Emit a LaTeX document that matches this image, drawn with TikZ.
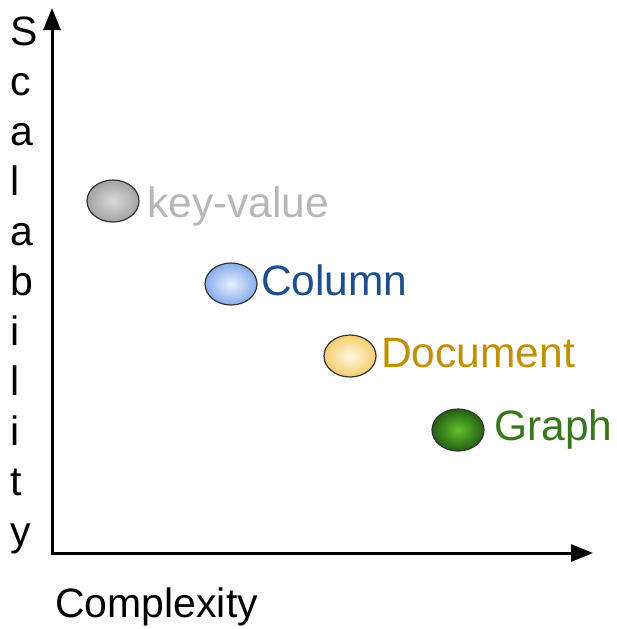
\documentclass[tikz,border=0pt]{standalone}
\usepackage{fontspec}
\setmainfont{Liberation Sans}
\usetikzlibrary{arrows.meta}
\usetikzlibrary{shapes.geometric}
\usetikzlibrary{positioning}

\definecolor{kvtext}{HTML}{B7B7B7}
\definecolor{coltext}{HTML}{1F4E8C}
\definecolor{doctext}{HTML}{BF9000}
\definecolor{graphtext}{HTML}{38761D}
\definecolor{kvin}{HTML}{DADADA}
\definecolor{kvout}{HTML}{A3A3A3}
\definecolor{colin}{HTML}{E8F0FF}
\definecolor{colout}{HTML}{86ACEA}
\definecolor{docin}{HTML}{FFF8E2}
\definecolor{docout}{HTML}{F4CD6C}
\definecolor{graphin}{HTML}{5EC230}
\definecolor{graphout}{HTML}{245E12}

\tikzset{
    blob/.style={ellipse, draw=black!80, line width=1.2pt, minimum width=52pt,
        minimum height=42pt, inner sep=0pt},
    lbl/.style={anchor=base west, inner sep=0pt, font=\fontsize{42.5}{50}\selectfont},
    axlbl/.style={anchor=base west, inner sep=0pt, font=\fontsize{41}{49}\selectfont},
    axis/.style={line width=3pt, {Triangle[length=22pt,width=17pt]}-{Triangle[length=22pt,width=17pt]}}
}

\begin{document}
\begin{tikzpicture}[x=1pt, y=-1pt]
    \useasboundingbox (0,0) rectangle (616,629);
    % axes
    \coordinate (o) at (52,553);
    \coordinate (ytip) at (52,8);
    \coordinate (xtip) at (593,553);
    \draw[axis] (ytip) -- (o) -- (xtip);
    \foreach \ch [count=\i from 0] in {S,c,a,l,a,b,i,l,i,t,y} {
        \node[axlbl] (s\i) at (10,45+50*\i) {\ch};
    }
    \node[axlbl] (cplx) at (55,617) {Complexity};
    % data stores
    \foreach \nm/\cx/\cy/\tx/\ty/\txt in {kv/113/201/147/217/key-value, col/231/284/261/295/Column,
            doc/350/356/381/367/Document, graph/458/430/494/440/Graph} {
        \node[blob, inner color=\nm in, outer color=\nm out] (\nm) at (\cx,\cy) {};
        \node[lbl, text=\nm text] (\nm-txt) at (\tx,\ty) {\txt};
    }
\end{tikzpicture}
\end{document}
